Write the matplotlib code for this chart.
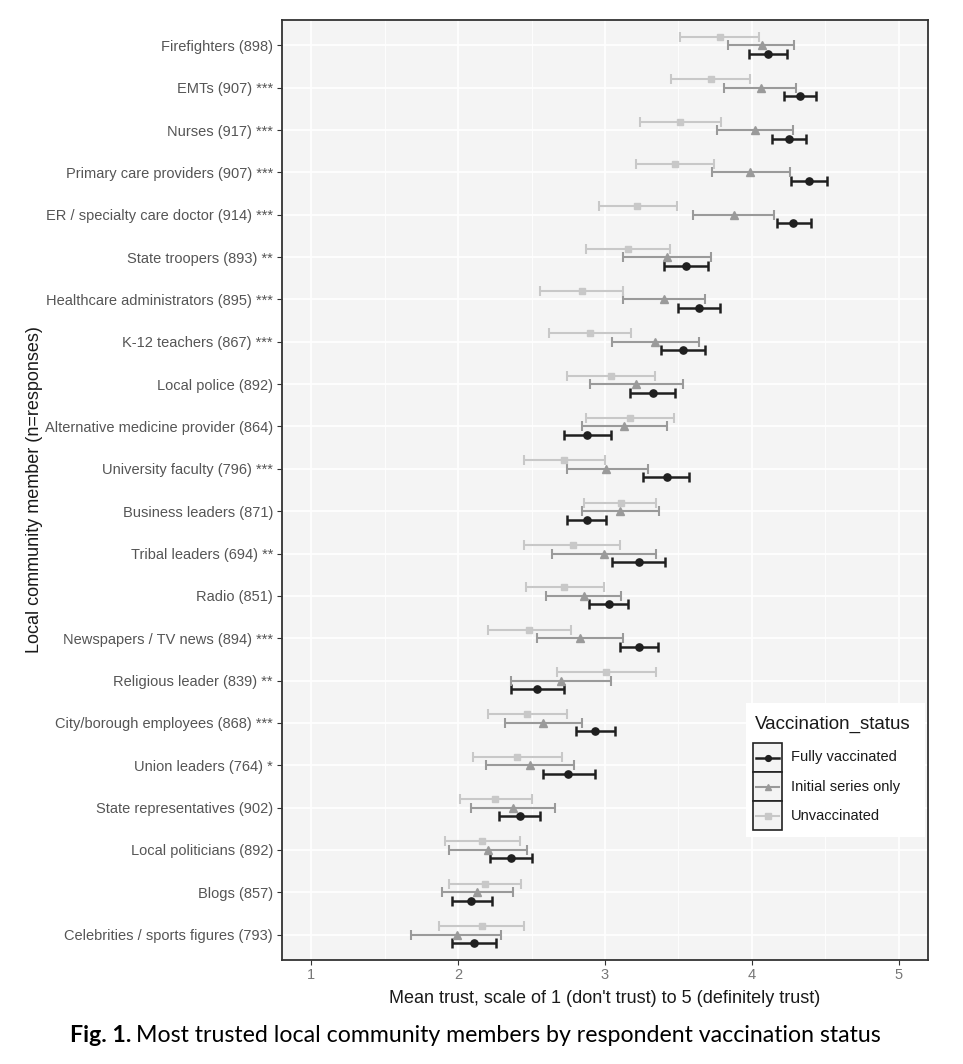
import matplotlib
matplotlib.use("Agg")
import matplotlib.pyplot as plt
from matplotlib.lines import Line2D
from matplotlib.patches import Rectangle
import numpy as np

plt.rcParams['font.family'] = ['Liberation Sans', 'DejaVu Sans']

# Categories, top to bottom
categories = ["Firefighters (898)", "EMTs (907) ***", "Nurses (917) ***",
              "Primary care providers (907) ***", "ER / specialty care doctor (914) ***",
              "State troopers (893) **", "Healthcare administrators (895) ***",
              "K-12 teachers (867) ***", "Local police (892)",
              "Alternative medicine provider (864)", "University faculty (796) ***",
              "Business leaders (871)", "Tribal leaders (694) **", "Radio (851)",
              "Newspapers / TV news (894) ***", "Religious leader (839) **",
              "City/borough employees (868) ***", "Union leaders (764) *",
              "State representatives (902)", "Local politicians (892)",
              "Blogs (857)", "Celebrities / sports figures (793)"]

# Fully vaccinated
full_mean = [4.11, 4.33, 4.25, 4.39, 4.28, 3.55, 3.64, 3.53, 3.33, 2.88, 3.42, 2.88,
             3.23, 3.03, 3.23, 2.54, 2.93, 2.75, 2.42, 2.36, 2.09, 2.11]
full_lo = [3.98, 4.22, 4.14, 4.27, 4.17, 3.40, 3.50, 3.38, 3.17, 2.72, 3.26, 2.74,
           3.05, 2.89, 3.10, 2.36, 2.80, 2.58, 2.28, 2.22, 1.96, 1.96]
full_hi = [4.24, 4.44, 4.37, 4.51, 4.40, 3.70, 3.78, 3.68, 3.48, 3.04, 3.57, 3.01,
           3.41, 3.16, 3.36, 2.72, 3.07, 2.93, 2.56, 2.50, 2.23, 2.26]

# Initial series only
init_mean = [4.07, 4.06, 4.02, 3.99, 3.88, 3.42, 3.40, 3.34, 3.21, 3.13, 3.01, 3.10,
             2.99, 2.86, 2.83, 2.70, 2.58, 2.49, 2.37, 2.20, 2.13, 1.99]
init_lo = [3.84, 3.81, 3.76, 3.73, 3.60, 3.12, 3.12, 3.05, 2.90, 2.84, 2.74, 2.84,
           2.64, 2.60, 2.54, 2.36, 2.32, 2.19, 2.09, 1.94, 1.89, 1.68]
init_hi = [4.29, 4.30, 4.28, 4.26, 4.15, 3.72, 3.68, 3.64, 3.53, 3.42, 3.29, 3.37,
           3.35, 3.11, 3.12, 3.04, 2.84, 2.79, 2.66, 2.47, 2.37, 2.29]

# Unvaccinated
unv_mean = [3.78, 3.72, 3.51, 3.48, 3.22, 3.16, 2.84, 2.90, 3.04, 3.17, 2.72, 3.11,
            2.78, 2.72, 2.48, 3.01, 2.47, 2.40, 2.25, 2.16, 2.18, 2.16]
unv_lo = [3.51, 3.45, 3.24, 3.21, 2.96, 2.87, 2.56, 2.62, 2.74, 2.87, 2.45, 2.86,
          2.45, 2.46, 2.20, 2.67, 2.20, 2.10, 2.01, 1.91, 1.94, 1.87]
unv_hi = [4.05, 3.99, 3.79, 3.74, 3.49, 3.44, 3.12, 3.18, 3.34, 3.47, 3.00, 3.35,
          3.10, 2.99, 2.77, 3.35, 2.74, 2.71, 2.50, 2.42, 2.43, 2.45]

series_names = ["Fully vaccinated", "Initial series only", "Unvaccinated"]
x_ticks = [1, 2, 3, 4, 5]

W, H = 963, 1064
fig = plt.figure(figsize=(W / 100, H / 100), dpi=100)
ax = fig.add_axes([282 / W, 1 - 960 / H, (928 - 282) / W, (960 - 20) / H])

n = len(categories)
ypos = np.arange(n)[::-1] + 1.0  # Firefighters at top

ax.set_facecolor('#f4f4f4')
for xm in [1.5, 2.5, 3.5, 4.5]:
    ax.axvline(xm, color='white', lw=0.6, zorder=0)
for xm in x_ticks:
    ax.axvline(xm, color='white', lw=1.2, zorder=0)
for yv in ypos:
    ax.axhline(yv, color='white', lw=1.2, zorder=0)

styles = [
    (full_mean, full_lo, full_hi, '#1f1f1f', 'o', -0.2, 1.8, 5.2),
    (init_mean, init_lo, init_hi, '#9a9a9a', '^', 0.0, 1.5, 5.6),
    (unv_mean, unv_lo, unv_hi, '#c8c8c8', 's', 0.2, 1.5, 4.8),
]
for mean, lo, hi, col, mk, off, lw, ms in styles:
    m = np.array(mean); l = np.array(lo); h = np.array(hi)
    ax.errorbar(m, ypos + off, xerr=[m - l, h - m], fmt=mk, color=col, ecolor=col,
                elinewidth=lw, capsize=3.4, capthick=lw, markersize=ms, zorder=3)

ax.set_xlim(0.8, 5.2)
ax.set_ylim(0.4, n + 0.6)
ax.set_xticks(x_ticks)
ax.set_xticklabels([str(t) for t in x_ticks])
ax.set_yticks(ypos)
ax.set_yticklabels(categories)
ax.tick_params(axis='both', length=3.5, width=0.8, color='#333333')
ax.tick_params(axis='y', labelsize=10.5, labelcolor='#555555', pad=3)
ax.tick_params(axis='x', labelsize=10.5, labelcolor='#777777', pad=2)
for s in ax.spines.values():
    s.set_color('#333333')
    s.set_linewidth(1.3)

ax.set_xlabel("Mean trust, scale of 1 (don't trust) to 5 (definitely trust)",
              fontsize=13, color='#1a1a1a', labelpad=6)
ax.set_ylabel("Local community member (n=responses)", fontsize=13,
              color='#1a1a1a', labelpad=1)

# Legend (manual, ggplot style)
def fx(px):
    return px / W
def fy(py):
    return 1 - py / H

fig.patches.append(Rectangle((fx(746), fy(837)), fx(925) - fx(746), fy(703) - fy(837),
                             transform=fig.transFigure, facecolor='white',
                             edgecolor='none', zorder=5))
fig.text(fx(755), fy(724), "Vaccination_status", fontsize=13.5, color='#1a1a1a',
         va='center', ha='left', zorder=6)
key_tops = [743, 772, 801]
for (mean, lo, hi, col, mk, off, lw, ms), name, kt in zip(styles, series_names, key_tops):
    fig.patches.append(Rectangle((fx(753), fy(kt + 29)), fx(782) - fx(753), fy(kt) - fy(kt + 29),
                                 transform=fig.transFigure, facecolor='#f4f4f4',
                                 edgecolor='#222222', lw=1.2, zorder=6))
    yc = fy(kt + 14.5)
    fig.lines.append(Line2D([fx(756), fx(779)], [yc, yc], transform=fig.transFigure,
                            color=col, lw=lw, zorder=7))
    fig.lines.append(Line2D([fx(767.5)], [yc], transform=fig.transFigure, color=col,
                            marker=mk, markersize=ms * 0.8, lw=0, zorder=8))
    fig.text(fx(791), yc, name, fontsize=10.5, color='#1a1a1a', va='center',
             ha='left', zorder=7)

# Caption
cap_bold = fig.text(fx(70), fy(1036), "Fig. 1.", fontsize=16.7, fontweight='bold',
                    ha='left', va='center', family=['Lato', 'DejaVu Sans'])
fig.canvas.draw()
bb = cap_bold.get_window_extent()
fig.text((bb.x1 + 5) / W, fy(1036), "Most trusted local community members by respondent vaccination status",
         fontsize=16.7, ha='left', va='center', family=['Lato', 'DejaVu Sans'])

fig.savefig("out.png", dpi=100)
